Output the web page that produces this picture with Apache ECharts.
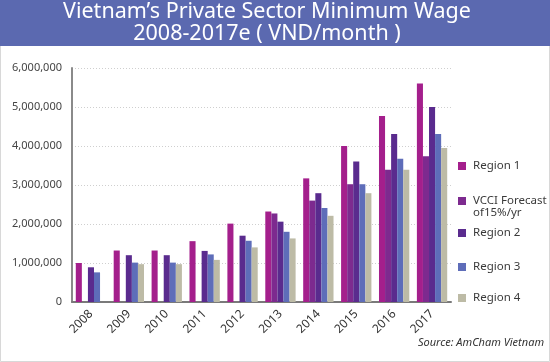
<!DOCTYPE html>
<html><head><meta charset="utf-8">
<script src="https://cdn.jsdelivr.net/npm/echarts@6/dist/echarts.min.js"></script>
<style>html,body{margin:0;padding:0;background:#fff}#c{width:550px;height:362px}</style>
</head><body><div id="c"></div>
<script>
const categories = ['2008','2009','2010','2011','2012','2013','2014','2015','2016','2017'];
const region1 = [1000000,1320000,1320000,1560000,2010000,2320000,3170000,4000000,4770000,5600000];
const vcci    = [null,null,null,null,null,2270000,2600000,3020000,3390000,3740000];
const region2 = [890000,1200000,1200000,1310000,1700000,2060000,2790000,3600000,4310000,5000000];
const region3 = [760000,1010000,1010000,1220000,1570000,1800000,2410000,3020000,3670000,4310000];
const region4 = [null,970000,970000,1080000,1400000,1630000,2210000,2790000,3390000,3950000];
const seriesNames = ['Region 1','VCCI Forecast of15%/yr','Region 2','Region 3','Region 4'];
const seriesData = [region1, vcci, region2, region3, region4];
const colors = ['#a41f8c','#7d2a8f','#5a2b8e','#5e6db9','#bdbba6'];
const yTicks = [0,1000000,2000000,3000000,4000000,5000000,6000000];

const chart = echarts.init(document.getElementById('c'), null, {renderer:'canvas'});
const FONT = 'Noto Sans';
const legendTops = [160, 195, 227, 261, 292];
const legends = seriesNames.map((n,i)=>({
  data:[n], left:458, top:legendTops[i], padding:0, orient:'vertical',
  itemWidth:8, itemHeight:8, icon:'rect', selectedMode:false,
  formatter: i===1 ? 'VCCI Forecast' : '{name}',
  textStyle:{fontFamily:FONT, fontSize:11.5, color:'#3a3a3a', padding:[0,0,0,2]}
}));
const option = {
  animation:false,
  color: colors,
  textStyle:{fontFamily:FONT},
  graphic:[
    {type:'rect', shape:{x:0.5,y:0.5,width:549,height:361}, style:{fill:'#fff', stroke:'#d8d8d8', lineWidth:1}, z:-10},
    {type:'rect', shape:{x:0,y:0,width:550,height:46}, style:{fill:'#5b69b0'}, z:-5},
    {type:'text', x:267, y:12, style:{text:'Vietnam’s Private Sector Minimum Wage', fill:'#fff', font:'21.5px "Noto Sans"', align:'center', verticalAlign:'middle'}},
    {type:'text', x:267, y:34, style:{text:'2008-2017e ( VND/month )', fill:'#fff', font:'21.5px "Noto Sans"', align:'center', verticalAlign:'middle'}},
    {type:'text', x:473, y:213, style:{text:'of15%/yr', fill:'#3a3a3a', font:'11.5px "Noto Sans"', align:'left', verticalAlign:'middle'}},
    {type:'text', x:544, y:343, style:{text:'Source: AmCham Vietnam', fill:'#333', font:'italic 11px "Noto Sans"', align:'right', verticalAlign:'middle'}}
  ],
  legend: legends,
  grid:{left:72, right:99, top:68, bottom:60, containLabel:false},
  xAxis:{type:'category', data:categories,
    axisLine:{lineStyle:{color:'#7a7a7a', width:2}},
    axisTick:{show:false},
    axisLabel:{rotate:45, fontSize:12, color:'#333', fontFamily:FONT, margin:10}
  },
  yAxis:{type:'value', min:0, max:6000000, interval:1000000,
    axisLine:{show:true, lineStyle:{color:'#8a8a8a', width:2}},
    axisTick:{show:false},
    splitLine:{lineStyle:{color:'#cfcfcf', type:[1,2], width:1}},
    axisLabel:{fontSize:11, color:'#444', fontFamily:FONT, margin:10,
      formatter: v => v.toLocaleString('en-US')}
  },
  series: seriesNames.map((n,i)=>({
    name:n, type:'bar', data:seriesData[i], barGap:'0%', barCategoryGap:'20%',
    itemStyle:{color:colors[i]}
  }))
};
chart.setOption(option);
</script></body></html>
